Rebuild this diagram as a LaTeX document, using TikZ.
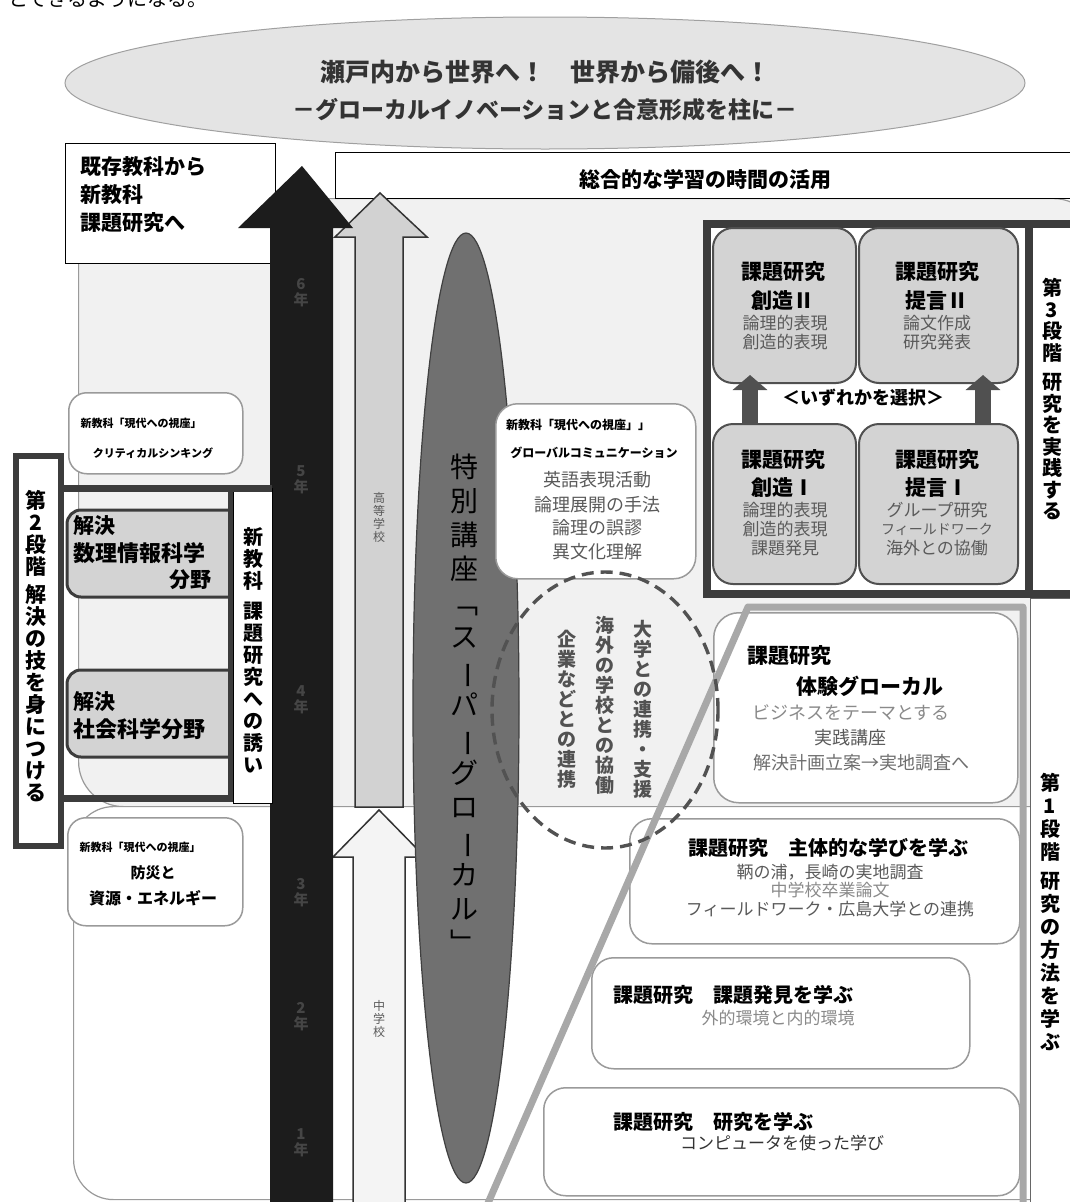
\documentclass[tikz,border=0pt]{standalone}
\usepackage{fontspec}
\setmainfont{Noto Sans CJK JP}
\usetikzlibrary{shapes.geometric,arrows.meta}
\definecolor{bgup}{HTML}{F1F1F1}
\definecolor{ellfill}{HTML}{E4E4E4}
\definecolor{ellline}{HTML}{A0A0A0}
\definecolor{darkarrow}{HTML}{1C1C1C}
\definecolor{yearcol}{HTML}{454545}
\definecolor{hsfill}{HTML}{D2D2D2}
\definecolor{jhfill}{HTML}{F4F4F4}
\definecolor{spfill}{HTML}{707070}
\definecolor{boxgray}{HTML}{D3D3D3}
\definecolor{boxline}{HTML}{505050}
\definecolor{thickcol}{HTML}{3C3C3C}
\definecolor{lightline}{HTML}{A8A8A8}
\definecolor{roundline}{HTML}{9A9A9A}
\definecolor{subtxt}{HTML}{5A5A5A}
\definecolor{paletxt}{HTML}{8A8A8A}
\definecolor{txtdark}{HTML}{333333}
\newcommand\fz[2]{\fontsize{#1}{#2}\selectfont}
\newcommand\vbar{\rotatebox[origin=c]{-90}{ー}}
\tikzset{
  rbox/.style={draw=roundline, line width=1.5, fill=white, rounded corners=22, inner sep=0, anchor=north west},
  gbox/.style={draw=boxline, line width=2, fill=boxgray, rounded corners=20, inner sep=0, anchor=north west},
  plainbox/.style={draw=black, line width=0.8, fill=white, inner sep=0, anchor=north west},
  vt/.style={align=center, inner sep=0, anchor=north},
  yr/.style={align=center, inner sep=0, font=\bfseries\fz{15}{16}, text=yearcol},
  lbl/.style={inner sep=0},
  upar/.style={draw=boxline, line width=16, -{Triangle[width=34pt,length=15pt]}},
}
\begin{document}
\begin{tikzpicture}[x=1pt,y=-1pt]
\useasboundingbox (0,0) rectangle (1070,1202);
\fill[white] (0,0) rectangle (1070,1202);

% cut-off text at the top
\node[anchor=base west, inner sep=0, font=\fz{20}{20}] (cut) at (8,6) {とできるようになる。};

% background regions
\node[draw=roundline, line width=1.2, fill=bgup, rounded corners=45, anchor=north west, minimum width=1020, minimum height=608, inner sep=0] (upper) at (78,198) {};
\node[draw=roundline, line width=1.2, fill=white, rounded corners=40, anchor=north west, minimum width=1030, minimum height=393, inner sep=0] (lower) at (73,806) {};

% vision ellipse
\node[ellipse, draw=ellline, fill=ellfill, line width=1, minimum width=960, minimum height=132, inner sep=0] (vision) at (545,83) {};
\node[lbl, font=\bfseries\fz{25}{25}, text=txtdark] (vis1) at (545,72) {瀬戸内から世界へ！　世界から備後へ！};
\node[lbl, font=\bfseries\fz{23}{23}, text=txtdark] (vis2) at (545,110) {－グローカルイノベーションと合意形成を柱に－};

% header
\node[plainbox, minimum width=745, minimum height=46] (sogo) at (335,152) {};
\node[lbl, font=\bfseries\fz{21}{21}] (sogot) at (705,180) {総合的な学習の時間の活用};

% existing subjects box
\node[plainbox, minimum width=210, minimum height=120] (kizon) at (65,143) {};
\node[anchor=north west, align=left, inner sep=0, font=\bfseries\fz{21}{28}] (kizont) at (80,156) {既存教科から\\新教科\\課題研究へ};

% school arrows
\draw[fill=hsfill, draw=black!80, line width=1.5] (355,807) -- (355,237) -- (335,237) -- (380,193) -- (427,237) -- (403,237) -- (403,807) -- cycle;
\node[vt, font=\fz{12}{13}, text=subtxt] (hs) at (379,492) {高\\等\\学\\校};
\draw[fill=jhfill, draw=black!80, line width=1.5] (353,1210) -- (353,857) -- (333,857) -- (379,810) -- (425,857) -- (405,857) -- (405,1210) -- cycle;
\node[vt, font=\fz{12}{13}, text=subtxt] (jh) at (379,1000) {中\\学\\校};

% big black arrow
\fill[darkarrow] (270,1210) -- (270,228) -- (238,228) -- (302,166) -- (353,228) -- (333,228) -- (333,1210) -- cycle;
\node[yr] (y6) at (301,293) {6\\年};
\node[yr] (y5) at (301,480) {5\\年};
\node[yr] (y4) at (301,700) {4\\年};
\node[yr] (y3) at (301,893) {3\\年};
\node[yr] (y2) at (301,1017) {2\\年};
\node[yr] (y1) at (301,1143) {1\\年};

% special lecture ellipse
\node[ellipse, draw=black!75, fill=spfill, line width=1.2, minimum width=106, minimum height=950, inner sep=0] (super) at (466,708) {};
\node[align=center, inner sep=0, font=\fz{28}{34}, text=black] (supert) at (464,704) {特\\別\\講\\座\\﹁\\ス\\\vbar\\パ\\\vbar\\グ\\ロ\\\vbar\\カ\\ル\\﹂};

% middle box
\node[rbox, minimum width=200, minimum height=175] (mid) at (495,403) {};
\node[lbl, font=\bfseries\fz{12}{12}] (m1) at (578,425) {新教科「現代への視座」」};
\node[lbl, font=\bfseries\fz{12}{12}] (m2) at (594,453) {グローバルコミュニケーション};
\node[lbl, font=\fz{18}{18}, text=subtxt] (m3) at (597,480) {英語表現活動};
\node[lbl, font=\fz{18}{18}, text=subtxt] (m4) at (597,505) {論理展開の手法};
\node[lbl, font=\fz{18}{18}, text=subtxt] (m5) at (597,528) {論理の誤謬};
\node[lbl, font=\fz{18}{18}, text=subtxt] (m6) at (597,552) {異文化理解};

% left column: critical thinking
\node[rbox, rounded corners=18, minimum width=174, minimum height=81] (crit) at (68,392) {};
\node[lbl, font=\bfseries\fz{11}{11}] (crit1) at (141,423) {新教科「現代への視座」};
\node[lbl, font=\bfseries\fz{11}{11}] (crit2) at (153,453) {クリティカルシンキング};

% stage 2
\node[draw=thickcol, line width=6, fill=white, anchor=north west, minimum width=45, minimum height=390, inner sep=0] (st2) at (13,453) {};
\node[vt, font=\bfseries\fz{21}{22}] (st2t) at (36,490) {第\\2\\段\\階\\[6pt]解\\決\\の\\技\\を\\身\\に\\つ\\け\\る};
\node[plainbox, minimum width=39, minimum height=315] (shin) at (233,488) {};
\node[vt, font=\bfseries\fz{20}{22}] (shint) at (253,527) {新\\教\\科\\[8pt]課\\題\\研\\究\\へ\\の\\誘\\い};
\draw[fill=boxgray, draw=thickcol, line width=3, rounded corners=14] (230,510) -- (67,510) -- (67,597) -- (230,597);
\draw[fill=boxgray, draw=thickcol, line width=3, rounded corners=14] (230,670) -- (67,670) -- (67,757) -- (230,757);
\draw[thickcol, line width=7] (58,488) -- (272,488);
\draw[thickcol, line width=7] (58,798) -- (233,798);
\draw[thickcol, line width=5] (230,488) -- (230,798);
\node[anchor=west, inner sep=0, font=\bfseries\fz{21}{21}] (k1a) at (73,526) {解決};
\node[anchor=west, inner sep=0, font=\bfseries\fz{22}{22}] (k1b) at (73,553) {数理情報科学};
\node[anchor=east, inner sep=0, font=\bfseries\fz{21}{21}] (k1c) at (212,580) {分野};
\node[anchor=west, inner sep=0, font=\bfseries\fz{21}{21}] (k2a) at (73,702) {解決};
\node[anchor=west, inner sep=0, font=\bfseries\fz{22}{22}] (k2b) at (73,729) {社会科学分野};

% disaster box
\node[rbox, rounded corners=18, minimum width=175, minimum height=108] (bosai) at (67,817) {};
\node[lbl, font=\bfseries\fz{11}{11}] (b1) at (140,847) {新教科「現代への視座」};
\node[lbl, font=\bfseries\fz{15}{15}] (b2) at (153,873) {防災と};
\node[lbl, font=\bfseries\fz{16}{16}] (b3) at (153,898) {資源・エネルギー};

% stage 3 block
\node[draw=thickcol, line width=8, fill=white, anchor=north west, minimum width=377, minimum height=370, inner sep=0] (stage3) at (703,220) {};
\draw[thickcol, line width=8] (stage3.north west -| 1029,0) -- (stage3.south west -| 1029,0);
\node[vt, font=\bfseries\fz{20}{21.5}] (st3t) at (1052,278) {第\\3\\段\\階\\[8pt]研\\究\\を\\実\\践\\す\\る};
\node[gbox, minimum width=143, minimum height=155] (cz2) at (712,227) {};
\node[gbox, minimum width=159, minimum height=155] (tg2) at (858,227) {};
\node[gbox, minimum width=143, minimum height=160] (cz1) at (712,423) {};
\node[gbox, minimum width=159, minimum height=160] (tg1) at (858,423) {};
\coordinate (ax1) at (750,0);
\coordinate (ax2) at (983,0);
\draw[upar] (cz1.north -| ax1) -- ([yshift=9pt]cz2.south -| ax1);
\draw[upar] (tg1.north -| ax2) -- ([yshift=9pt]tg2.south -| ax2);
\node[lbl, font=\bfseries\fz{18}{18}] (sel) at (863,398) {＜いずれかを選択＞};
% creation II
\node[lbl, font=\bfseries\fz{21}{21}] (cz2a) at (783,272) {課題研究};
\node[lbl, font=\bfseries\fz{21}{21}] (cz2b) at (783,301) {創造Ⅱ};
\node[lbl, font=\fz{17}{17}, text=subtxt] (cz2c) at (785,323) {論理的表現};
\node[lbl, font=\fz{17}{17}, text=subtxt] (cz2d) at (785,342) {創造的表現};
% proposal II
\node[lbl, font=\bfseries\fz{21}{21}] (tg2a) at (937,272) {課題研究};
\node[lbl, font=\bfseries\fz{21}{21}] (tg2b) at (937,301) {提言Ⅱ};
\node[lbl, font=\fz{17}{17}, text=subtxt] (tg2c) at (937,323) {論文作成};
\node[lbl, font=\fz{17}{17}, text=subtxt] (tg2d) at (937,342) {研究発表};
% creation I
\node[lbl, font=\bfseries\fz{21}{21}] (cz1a) at (783,460) {課題研究};
\node[lbl, font=\bfseries\fz{21}{21}] (cz1b) at (783,488) {創造Ⅰ};
\node[lbl, font=\fz{17}{17}, text=subtxt] (cz1c) at (785,510) {論理的表現};
\node[lbl, font=\fz{17}{17}, text=subtxt] (cz1d) at (785,529) {創造的表現};
\node[lbl, font=\fz{17}{17}, text=subtxt] (cz1e) at (785,548) {課題発見};
% proposal I
\node[lbl, font=\bfseries\fz{21}{21}] (tg1a) at (937,460) {課題研究};
\node[lbl, font=\bfseries\fz{21}{21}] (tg1b) at (937,488) {提言Ⅰ};
\node[lbl, font=\fz{17}{17}, text=subtxt] (tg1c) at (937,510) {グループ研究};
\node[lbl, font=\fz{14}{14}, text=subtxt] (tg1d) at (937,529) {フィールドワーク};
\node[lbl, font=\fz{17}{17}, text=subtxt] (tg1e) at (937,548) {海外との協働};

% stage 1 boxes
\node[rbox, rounded corners=25, minimum width=304, minimum height=190] (taiken) at (713,612) {};
\node[rbox, rounded corners=22, minimum width=390, minimum height=125] (shutai) at (629,818) {};
\node[rbox, rounded corners=22, minimum width=378, minimum height=111] (hakken) at (591,957) {};
\node[rbox, rounded corners=22, minimum width=476, minimum height=108] (kenkyu) at (543,1087) {};
\draw[lightline, line width=7, line join=round] (485,1210) -- (748,607) -- (1023,607) -- (1023,1210);
\node[draw=black!60, line width=0.8, fill=white, anchor=north west, minimum width=45, minimum height=610, inner sep=0] (st1) at (1030,598) {};
\node[vt, font=\bfseries\fz{20}{23}] (st1t) at (1050,773) {第\\1\\段\\階\\[6pt]研\\究\\の\\方\\法\\を\\学\\ぶ};

\node[anchor=west, inner sep=0, font=\bfseries\fz{21}{21}] (ta1) at (747,656) {課題研究};
\node[lbl, font=\bfseries\fz{21}{21}] (ta2) at (870,686) {体験グローカル};
\node[lbl, font=\fz{18}{18}, text=paletxt] (ta3) at (851,713) {ビジネスをテーマとする};
\node[lbl, font=\fz{18}{18}, text=subtxt] (ta4) at (850,738) {実践講座};
\node[lbl, font=\fz{18}{18}, text=paletxt!80!black] (ta5) at (861,763) {解決計画立案→実地調査へ};

\node[lbl, font=\bfseries\fz{20}{20}] (sh1) at (828,848) {課題研究　主体的な学びを学ぶ};
\node[lbl, font=\fz{17}{17}, text=subtxt] (sh2) at (830,872) {鞆の浦，長崎の実地調査};
\node[lbl, font=\fz{17}{17}, text=paletxt] (sh3) at (830,890) {中学校卒業論文};
\node[lbl, font=\fz{17}{17}, text=subtxt] (sh4) at (830,909) {フィールドワーク・広島大学との連携};

\node[anchor=west, inner sep=0, font=\bfseries\fz{20}{20}] (hk1) at (613,995) {課題研究　課題発見を学ぶ};
\node[lbl, font=\fz{17}{17}, text=paletxt] (hk2) at (778,1018) {外的環境と内的環境};

\node[anchor=west, inner sep=0, font=\bfseries\fz{20}{20}] (kk1) at (613,1122) {課題研究　研究を学ぶ};
\node[lbl, font=\fz{17}{17}, text=black!80] (kk2) at (782,1143) {コンピュータを使った学び};

% collaboration dashed ellipse (drawn over its neighbours)
\node[ellipse, draw=black!68, dash pattern=on 12pt off 7pt, line width=3.4, minimum width=226, minimum height=276, inner sep=0] (collab) at (605,710) {};
\node[vt, font=\bfseries\fz{19}{20}, text=black!68] (c1) at (643,620) {大\\学\\と\\の\\連\\携\\・\\支\\援};
\node[vt, font=\bfseries\fz{19}{20}, text=black!68] (c2) at (605,616) {海\\外\\の\\学\\校\\と\\の\\協\\働};
\node[vt, font=\bfseries\fz{19}{20}, text=black!68] (c3) at (567,630) {企\\業\\な\\ど\\と\\の\\連\\携};
\end{tikzpicture}
\end{document}
